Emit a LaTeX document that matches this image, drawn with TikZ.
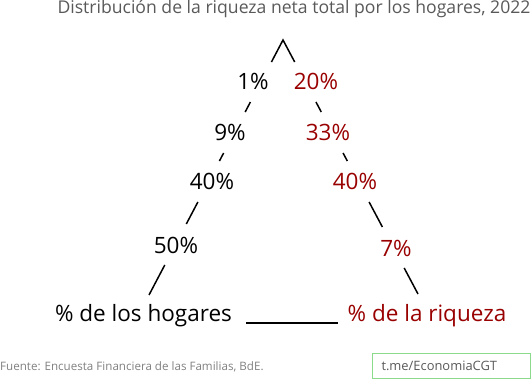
\documentclass[tikz,border=0pt]{standalone}
\usepackage{fontspec}
\setmainfont{Open Sans}
\usetikzlibrary{calc}

\definecolor{wealthred}{RGB}{153,0,0}
\definecolor{titlegray}{RGB}{89,89,89}
\definecolor{notegray}{RGB}{128,128,128}
\definecolor{boxgreen}{RGB}{140,218,140}

\newcommand*{\ytop}{40}
\newcommand*{\lspan}{255}
\newcommand*{\rspan}{254}

\begin{document}
\begin{tikzpicture}
[
	x=1pt, y=-1pt,
	pct/.style={anchor=base,inner sep=0pt,font=\fontsize{22.5}{27}\selectfont},
	hogar/.style={pct,black},
	riqueza/.style={pct,wealthred},
	edge/.style={line width=1.5pt}
]
	\useasboundingbox (0,0) rectangle (532,379);

	% title
	\node[anchor=base,inner sep=0pt,titlegray,font=\fontsize{17.6}{21}\selectfont] (title) at (294,13.5)
		{Distribución de la riqueza neta total por los hogares, 2022};

	% corners of the triangle
	\coordinate (apex) at (283,\ytop);
	\coordinate (bl) at (149,295);
	\coordinate (br) at (418,294);

	% households side
	\node[hogar] (h1) at (253,90) {1\%};
	\node[hogar] (h9) at (230,141) {9\%};
	\node[hogar] (h40) at (212,190) {40\%};
	\node[hogar] (h50) at (176,253) {50\%};
	\node[hogar] (hogares) at (143.5,321) {\% de los hogares};

	% wealth side
	\node[riqueza] (r20) at (316,90) {20\%};
	\node[riqueza] (r33) at (328,141) {33\%};
	\node[riqueza] (r40) at (355,190) {40\%};
	\node[riqueza] (r7) at (396,256) {7\%};
	\node[riqueza] (riqueza) at (427,321) {\% de la riqueza};

	% edges, broken by the labels
	\draw[edge] ($(apex)!{22/\lspan}!(bl)$) -- (apex) -- ($(apex)!{22/\rspan}!(br)$);
	\foreach \ya/\yb in {102/112,153/161,202/224,265/295} {
		\draw[edge] ($(apex)!{(\ya-\ytop)/\lspan}!(bl)$) -- ($(apex)!{(\yb-\ytop)/\lspan}!(bl)$);
	}
	\foreach \ya/\yb in {102/112,153/161,202/227,268/294} {
		\draw[edge] ($(apex)!{(\ya-\ytop)/\rspan}!(br)$) -- ($(apex)!{(\yb-\ytop)/\rspan}!(br)$);
	}
	\draw[edge] ([shift={(14,2)}]hogares.base east) -- ([shift={(-10,2)}]riqueza.base west);

	% source and channel
	\node[anchor=base west,inner sep=0pt,notegray,font=\fontsize{11.6}{14}\selectfont] (source) at (0,370)
		{Fuente: Encuesta Financiera de las Familias, BdE.};
	\node[draw=boxgreen,line width=1pt,minimum width=158pt,minimum height=25pt,inner sep=0pt,
		text=titlegray,font=\fontsize{12.9}{15}\selectfont,text width=140pt,align=left] (channel) at (451.5,365.8)
		{t.me/EconomiaCGT};

\end{tikzpicture}
\end{document}
